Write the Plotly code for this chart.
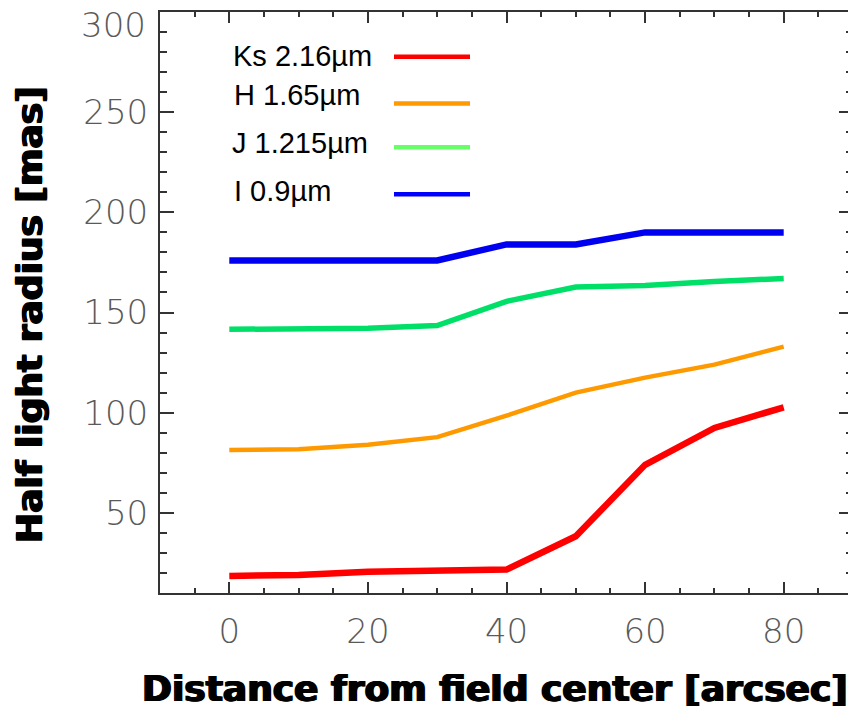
import plotly.graph_objects as go

# ---- data ----
distance = [0, 10, 20, 30, 40, 50, 60, 70, 80]
ks_216 = [18.5, 19.0, 20.6, 21.2, 21.7, 38.3, 74.0, 92.4, 102.7]
h_165 = [81.4, 81.8, 84.0, 87.8, 98.5, 110.0, 117.5, 124.0, 133.0]
j_1215 = [141.6, 141.6, 142.2, 143.5, 155.6, 162.7, 163.5, 165.5, 167.0]
i_09 = [176.0, 176.0, 176.0, 176.0, 184.0, 184.0, 190.0, 190.0, 190.0]

band_labels = ["Ks 2.16µm", "H 1.65µm", "J 1.215µm", "I 0.9µm"]
line_colors = ["#ff0000", "#ff9900", "#00e068", "#0000f0"]
legend_colors = ["#ff0000", "#ff9900", "#66ff66", "#0000ff"]
line_widths = [6.5, 4.5, 5.5, 6.5]
series = [ks_216, h_165, j_1215, i_09]

y_tick_vals = [50, 100, 150, 200, 250]
y_top_label = "300"
x_title = "Distance from field center [arcsec]"
y_title = "Half light radius [mas]"

# ---- figure geometry (page pixels; the page body adds an 8px offset) ----
W, H = 856, 711
OFF = 8
PL, PT, PR, PB = 160, 10, 853, 593          # plot box in page pixels
L = PL - OFF
T = PT - OFF
R = W - (PR - OFF)
B = H - (PB - OFF)
PW, PH = PR - PL, PB - PT


def px2paper_x(px):
    return (px - PL) / PW


def px2paper_y(py):
    return (PB - py) / PH


fig = go.Figure()
for vals, name, col, lw in zip(series, band_labels, line_colors, line_widths):
    fig.add_trace(go.Scatter(x=distance, y=vals, mode="lines", name=name,
                             line=dict(color=col, width=lw), showlegend=False))

tick_font = dict(family="DejaVu Sans", size=34, color="#5a5a5a", weight=200)
axis_common = dict(
    showgrid=False, zeroline=False, showline=True, linecolor="#333333",
    linewidth=2, mirror="allticks", ticks="inside", tickcolor="#333333",
    tickwidth=1.5, tickfont=tick_font,
)

fig.update_xaxes(range=[-10, 90], tickmode="linear", tick0=0, dtick=20,
                 ticklen=11, ticklabelstandoff=7,
                 minor=dict(ticks="inside", dtick=5, tick0=0, ticklen=5,
                            tickcolor="#333333", tickwidth=1.5),
                 **axis_common)
fig.update_yaxes(range=[10, 300], tickmode="array", tickvals=y_tick_vals,
                 ticklen=14, ticklabelstandoff=3,
                 minor=dict(ticks="inside", dtick=10, tick0=0, ticklen=7,
                            tickcolor="#333333", tickwidth=1.5),
                 **axis_common)

# top y label sits slightly below the frame top in the reference
fig.add_annotation(text=y_top_label, xref="paper", yref="paper",
                   x=px2paper_x(148), y=px2paper_y(23),
                   xanchor="right", yanchor="middle", showarrow=False,
                   font=tick_font)

# legend drawn as text + sample lines (text left, line right)
legend_text_y = [54, 93, 141, 190]
legend_line_y = [55, 101.7, 145.7, 193]
legend_text_x = [231, 232, 230, 232]
for lab, tx, ty, ly, col in zip(band_labels, legend_text_x, legend_text_y,
                                legend_line_y, legend_colors):
    fig.add_annotation(text=lab, xref="paper", yref="paper",
                       x=px2paper_x(tx), y=px2paper_y(ty),
                       xanchor="left", yanchor="middle", showarrow=False,
                       font=dict(family="Liberation Sans", size=29, color="#000000"))
    fig.add_shape(type="line", xref="paper", yref="paper",
                  x0=px2paper_x(394), x1=px2paper_x(470),
                  y0=px2paper_y(ly), y1=px2paper_y(ly),
                  line=dict(color=col, width=4.5))

title_font = dict(family="DejaVu Sans", size=36, color="#000000", weight="bold",
                  shadow="1px 0px 0px #000, -1px 0px 0px #000")
fig.add_annotation(text=x_title, xref="paper", yref="paper",
                   x=px2paper_x(495), y=px2paper_y(689),
                   xanchor="center", yanchor="middle", showarrow=False,
                   font=title_font)
fig.add_annotation(text=y_title, xref="paper", yref="paper",
                   x=px2paper_x(30), y=px2paper_y(314),
                   xanchor="center", yanchor="middle", showarrow=False,
                   textangle=-90, font=title_font)

fig.update_layout(width=W, height=H, margin=dict(l=L, r=R, t=T, b=B),
                  plot_bgcolor="white", paper_bgcolor="white")

fig.write_html("out.html")
